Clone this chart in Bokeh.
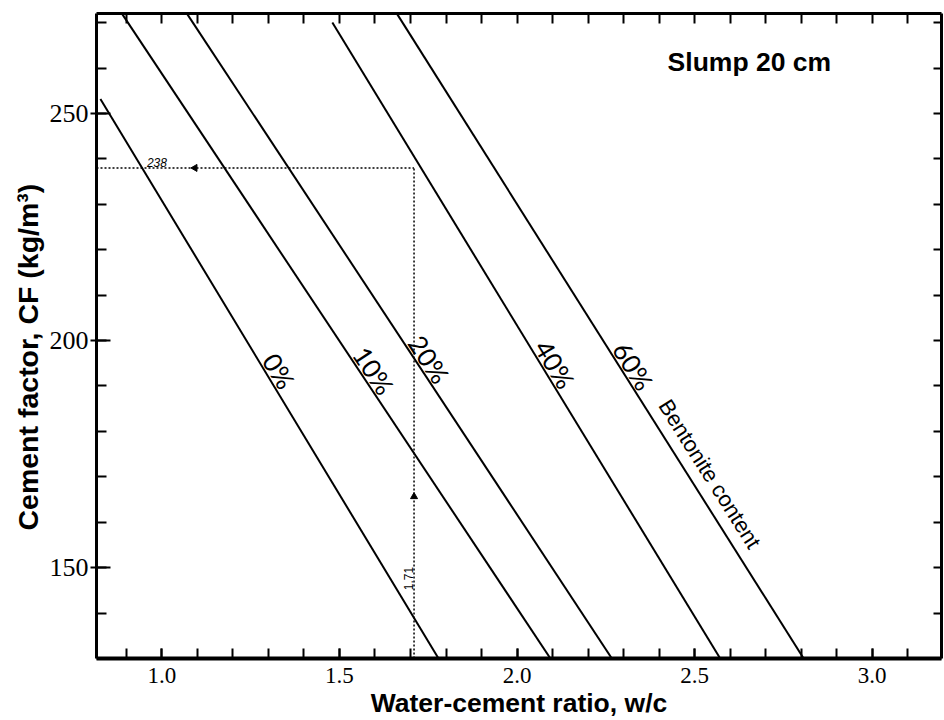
import math
from bokeh.plotting import figure
from bokeh.models import LinearAxis, FixedTicker, Range1d, NumeralTickFormatter, Title
from bokeh.core.properties import value
from bokeh.embed import file_html
from bokeh.resources import INLINE

# ---------------- data ----------------
bentonite_labels = ["0%", "10%", "20%", "40%", "60%"]
wc_start = [0.827, 0.889, 1.072, 1.480, 1.663]     # w/c at upper end of each line
cf_start = [253.2, 271.8, 271.8, 270.0, 271.8]     # CF at upper end
wc_end = [1.779, 2.094, 2.267, 2.572, 2.807]       # w/c at lower end
cf_end = [130.0, 130.0, 130.0, 130.0, 130.0]       # CF at lower end
label_cf = [191.9, 191.9, 194.4, 193.4, 193.0]     # CF where each % label sits
content_label = "Bentonite content"
content_label_cf = 168.4

example_cf = 238
example_wc = 1.71
title_text = "Slump 20 cm"
x_title = "Water-cement ratio, w/c"
y_title = "Cement factor, CF (kg/m³)"

x_major = [1.0, 1.5, 2.0, 2.5, 3.0]
x_minor = [0.9, 1.0, 1.1, 1.2, 1.3, 1.4, 1.5, 1.6, 1.7, 1.8, 1.9, 2.0,
           2.1, 2.2, 2.3, 2.4, 2.5, 2.6, 2.7, 2.8, 2.9, 3.0, 3.1]
y_major = [150, 200, 250]
y_minor = [130, 140, 150, 160, 170, 180, 190, 200, 210, 220, 230, 240, 250, 260, 270]

x_min, x_max = 0.816, 3.195
y_min, y_max = 130, 272

# ---------------- layout ----------------
W, H = 943, 720
BL, BR, BT, BB = 96, 2, 13, 62
frame_w = W - BL - BR
frame_h = H - BT - BB
px_x = frame_w / (x_max - x_min)
px_y = frame_h / (y_max - y_min)

p = figure(width=W, height=H, x_range=Range1d(x_min, x_max), y_range=Range1d(y_min, y_max),
           output_backend="svg", toolbar_location=None,
           min_border_left=BL, min_border_right=BR, min_border_top=BT, min_border_bottom=BB)
p.outline_line_color = None
p.xgrid.visible = False
p.ygrid.visible = False
p.background_fill_color = "white"
p.border_fill_color = "white"

tick_font = "Liberation Sans Narrow"
label_font = "Liberation Sans"

# bottom axis
xa = p.xaxis[0]
xa.ticker = FixedTicker(ticks=x_major, minor_ticks=x_minor)
xa.formatter = NumeralTickFormatter(format="0.0")
xa.axis_line_width = 4
xa.axis_line_color = "black"
xa.major_tick_in = 10
xa.major_tick_out = 0
xa.minor_tick_in = 10
xa.minor_tick_out = 0
xa.major_tick_line_width = 2
xa.minor_tick_line_width = 2
xa.major_label_text_font = tick_font
xa.major_label_text_font_size = "23px"
xa.major_label_text_color = "black"
xa.major_label_standoff = 9
xa.axis_label = x_title
xa.axis_label_text_font = label_font
xa.axis_label_text_font_style = "bold"
xa.axis_label_text_font_size = "26.5px"
xa.axis_label_text_color = "black"
xa.axis_label_standoff = 2

# left axis
ya = p.yaxis[0]
ya.ticker = FixedTicker(ticks=y_major, minor_ticks=y_minor)
ya.formatter = NumeralTickFormatter(format="0")
ya.axis_line_width = 3
ya.axis_line_color = "black"
ya.major_tick_in = 14
ya.major_tick_out = 6
ya.minor_tick_in = 10
ya.minor_tick_out = 0
ya.major_tick_line_width = 2
ya.minor_tick_line_width = 2
ya.major_label_text_font = tick_font
ya.major_label_text_font_size = "26px"
ya.major_label_text_color = "black"
ya.major_label_standoff = 2
ya.major_label_orientation = "horizontal"

# y-axis title, placed a little below the frame centre as in the reference
yt = Title(text=y_title, align="left", offset=128, standoff=5,
           text_font=label_font, text_font_style="bold", text_font_size="28.5px",
           text_color="black")
p.add_layout(yt, "left")

# top axis (ticks only)
ta = LinearAxis(ticker=FixedTicker(ticks=[], minor_ticks=x_minor))
ta.axis_line_width = 3
ta.axis_line_color = "black"
ta.minor_tick_in = 10
ta.minor_tick_out = 0
ta.minor_tick_line_width = 2
ta.major_label_standoff = 0
ta.major_label_text_font_size = "0px"
p.add_layout(ta, "above")

# right axis (ticks only)
ra = LinearAxis(ticker=FixedTicker(ticks=[], minor_ticks=y_minor))
ra.axis_line_width = 3
ra.axis_line_color = "black"
ra.minor_tick_in = 8
ra.minor_tick_out = 0
ra.minor_tick_line_width = 2
ra.major_label_standoff = 0
ra.major_label_text_font_size = "0px"
p.add_layout(ra, "right")

# ---------------- lines ----------------
p.segment(x0=wc_start, y0=cf_start, x1=wc_end, y1=cf_end, line_color="black", line_width=2)


def wc_on_line(i, cf):
    t = (cf_start[i] - cf) / (cf_start[i] - cf_end[i])
    return wc_start[i] + t * (wc_end[i] - wc_start[i])


def line_angle(i):
    slope = (cf_end[i] - cf_start[i]) / (wc_end[i] - wc_start[i])
    return math.atan(slope * px_y / px_x)   # negative: text runs down the line


def perp_offsets(angles, dist):
    # screen-pixel offset that moves text to the upper-right side of a line
    xo = [dist * math.sin(-a) for a in angles]
    yo = [-dist * math.cos(a) for a in angles]
    return xo, yo


n = len(bentonite_labels)
lx = [wc_on_line(i, label_cf[i]) for i in range(n)]
la = [line_angle(i) for i in range(n)]
lxo, lyo = perp_offsets(la, 12)
p.text(x=lx, y=label_cf, text=bentonite_labels, angle=la, x_offset=lxo, y_offset=lyo,
       text_font=value("Lato"), text_font_size="26px", text_color="black",
       text_align="center", text_baseline="middle")

i60 = bentonite_labels.index("60%")
ca = [line_angle(i60)]
cxo, cyo = perp_offsets(ca, 19)
p.text(x=[wc_on_line(i60, content_label_cf)], y=[content_label_cf], text=[content_label],
       angle=ca, x_offset=cxo, y_offset=cyo, text_font=value(label_font), text_font_size="22px",
       text_color="black", text_align="center", text_baseline="middle")

# ---------------- example read-off (dotted) ----------------
p.segment(x0=[example_wc, x_min], y0=[y_min, example_cf], x1=[example_wc, example_wc], y1=[example_cf, example_cf],
          line_color="black", line_width=1.5, line_dash="2 2")
arrow_frac_v = 0.33
arrow_frac_h = 0.69
p.scatter(x=[example_wc], y=[y_min + arrow_frac_v * (example_cf - y_min)], marker="triangle",
          size=7, color="black")
p.scatter(x=[example_wc - arrow_frac_h * (example_wc - x_min)], y=[example_cf], marker="triangle",
          angle=math.pi / 2, size=7, color="black")

p.text(x=[0.958], y=[example_cf], text=[str(example_cf)], text_font=value(label_font),
       text_font_size="12px", text_font_style="italic", text_color="black",
       text_align="left", text_baseline="bottom", y_offset=-1)
p.text(x=[example_wc], y=[147.6], text=["%.2f" % example_wc], angle=[math.pi / 2],
       text_font=value(label_font), text_font_size="12px", text_color="black",
       text_align="center", text_baseline="bottom", x_offset=-1)

# title inside plot
p.text(x=[2.654], y=[261.4], text=[title_text], text_font=value(label_font),
       text_font_size="26.5px", text_font_style="bold", text_color="black",
       text_align="center", text_baseline="middle")

open("out.html", "w").write(file_html(p, INLINE))
